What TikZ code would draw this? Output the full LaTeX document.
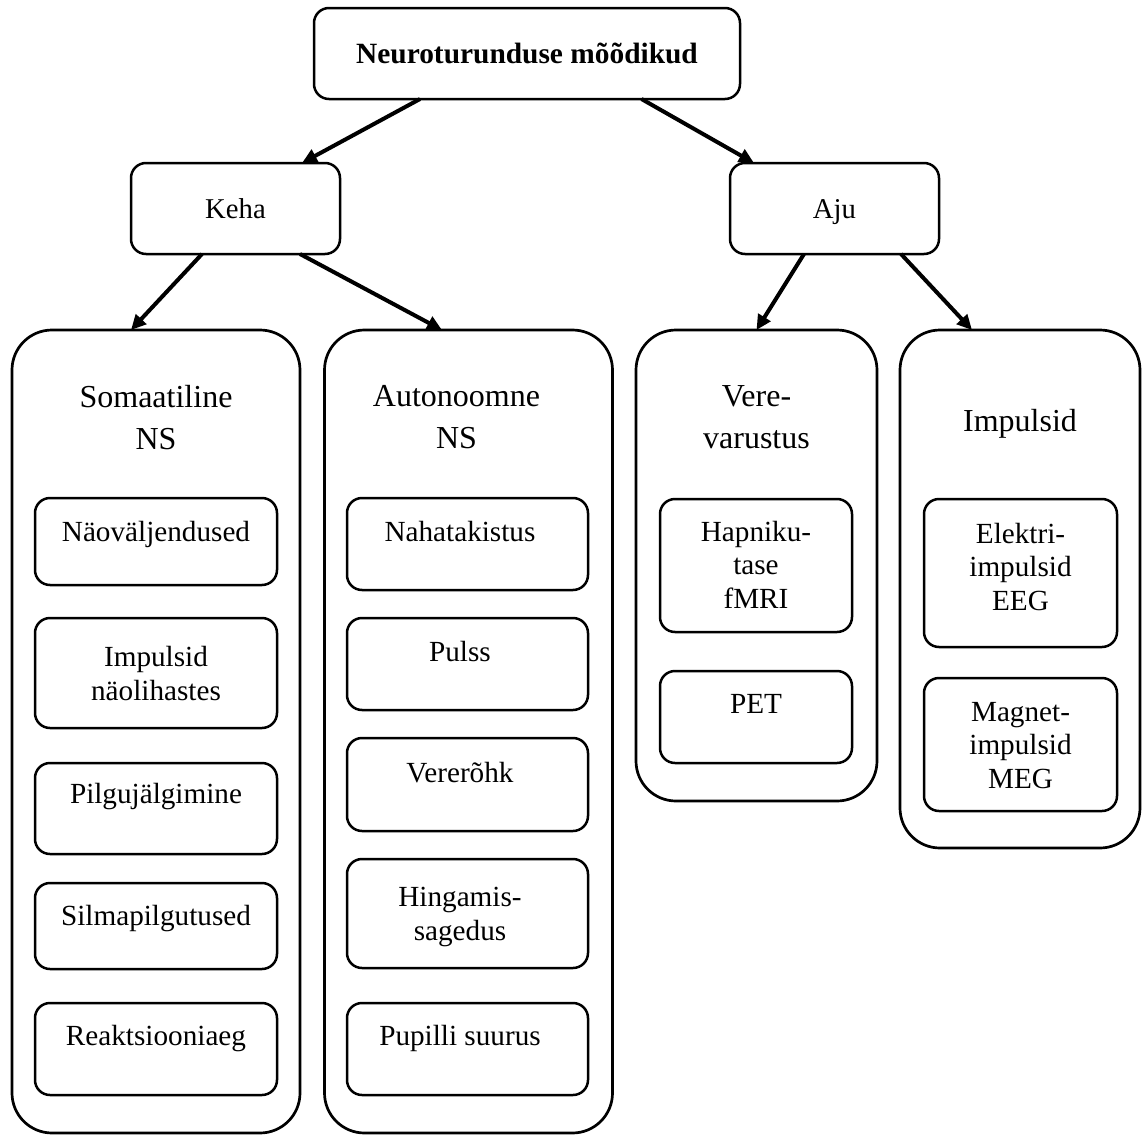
\documentclass[tikz,border=0pt]{standalone}
\usepackage{fontspec}
\setmainfont{Liberation Serif}
\usetikzlibrary{arrows.meta,calc}

\begin{document}
\begin{tikzpicture}[x=1pt,y=-1pt,
  every node/.style={inner sep=0pt,outer sep=0pt},
  groupbox/.style={draw,rectangle,line width=2.7pt,rounded corners=40pt},
  itembox/.style={draw,rectangle,line width=2.5pt,rounded corners=15pt},
  topbox/.style={draw,rectangle,line width=2.5pt,rounded corners=15pt,
    text height=20pt,text depth=0pt},
  % multi-line labels sit on the baseline of their last line
  lbl/.style={anchor=base,align=center,font=\fontsize{29.2}{33.3}\selectfont},
  head/.style={anchor=base,align=center,font=\fontsize{32}{41.5}\selectfont},
  arr/.style={line width=4pt,-{Triangle[length=15pt,width=14pt]}}]

\useasboundingbox (0,0) rectangle (1144,1135);

% top level
\node[topbox,minimum width=426pt,minimum height=91pt,
  font=\fontsize{29.4}{34}\selectfont\bfseries] (title) at (527,53.5)
  {Neuroturunduse mõõdikud};

% second level
\node[topbox,minimum width=209pt,minimum height=91pt,
  font=\fontsize{28.7}{33}\selectfont] (keha) at (235.5,208.5) {Keha};
\node[topbox,minimum width=209pt,minimum height=91pt,
  font=\fontsize{28.7}{33}\selectfont] (aju) at (834.5,208.5) {Aju};

% group containers
\node[groupbox,minimum width=288pt,minimum height=803pt] (som) at (156,731.5) {};
\node[groupbox,minimum width=288pt,minimum height=803pt] (aut) at (468.5,731.5) {};
\node[groupbox,minimum width=241pt,minimum height=471pt] (vere) at (756.5,565.5) {};
\node[groupbox,minimum width=240pt,minimum height=518pt] (imp) at (1020,589) {};

\node[head] (som-head) at (156,449) {Somaatiline\\NS};
\node[head] (aut-head) at (456.5,448) {Autonoomne\\NS};
\node[head] (vere-head) at (756.5,448) {Vere-\\varustus};
\node[head] (imp-head) at (1020,431.5) {Impulsid};

% somatic measures
\node[itembox,minimum width=242pt,minimum height=87pt]  (s1) at (156,541.5) {};
\node[itembox,minimum width=242pt,minimum height=110pt] (s2) at (156,673) {};
\node[itembox,minimum width=242pt,minimum height=91pt]  (s3) at (156,808.5) {};
\node[itembox,minimum width=242pt,minimum height=86pt]  (s4) at (156,926) {};
\node[itembox,minimum width=242pt,minimum height=92pt]  (s5) at (156,1049) {};
\node[lbl] (s1-text) at (156,541) {Näoväljendused};
\node[lbl] (s2-text) at (156,700) {Impulsid\\näolihastes};
\node[lbl] (s3-text) at (156,803) {Pilgujälgimine};
\node[lbl] (s4-text) at (156,925) {Silmapilgutused};
\node[lbl] (s5-text) at (156,1045) {Reaktsiooniaeg};

% autonomic measures
\node[itembox,minimum width=241pt,minimum height=92pt]  (a1) at (467.5,544) {};
\node[itembox,minimum width=241pt,minimum height=92pt]  (a2) at (467.5,664) {};
\node[itembox,minimum width=241pt,minimum height=93pt]  (a3) at (467.5,784.5) {};
\node[itembox,minimum width=241pt,minimum height=109pt] (a4) at (467.5,913.5) {};
\node[itembox,minimum width=241pt,minimum height=92pt]  (a5) at (467.5,1049) {};
\node[lbl] (a1-text) at (460,541) {Nahatakistus};
\node[lbl] (a2-text) at (460,661) {Pulss};
\node[lbl] (a3-text) at (460,782) {Vererõhk};
\node[lbl] (a4-text) at (460,940) {Hingamis-\\sagedus};
\node[lbl] (a5-text) at (460,1045) {Pupilli suurus};

% blood supply measures
\node[itembox,minimum width=192pt,minimum height=133pt] (v1) at (756,565.5) {};
\node[itembox,minimum width=192pt,minimum height=92pt]  (v2) at (756,717) {};
\node[lbl] (v1-text) at (756,608) {Hapniku-\\tase\\fMRI};
\node[lbl] (v2-text) at (756,713) {PET};

% impulse measures
\node[itembox,minimum width=193pt,minimum height=148pt] (i1) at (1020.5,573) {};
\node[itembox,minimum width=193pt,minimum height=133pt] (i2) at (1020.5,744.5) {};
\node[lbl] (i1-text) at (1020.5,610) {Elektri-\\impulsid\\EEG};
\node[lbl] (i2-text) at (1020.5,788) {Magnet-\\impulsid\\MEG};

% connectors
\draw[arr] ($(title.south west)+(106,0)$) -- ($(keha.north west)+(171,0)$);
\draw[arr] ($(title.south west)+(327.5,0)$) -- ($(aju.north west)+(24,0)$);
\draw[arr] ($(keha.south west)+(71,0)$) -- ($(som.north west)+(119,0)$);
\draw[arr] ($(keha.south west)+(169,0)$) -- ($(aut.north west)+(117.5,0)$);
\draw[arr] ($(aju.south west)+(74,0)$) -- ($(vere.north west)+(120.5,0)$);
\draw[arr] ($(aju.south west)+(171,0)$) -- ($(imp.north west)+(72,0)$);
\end{tikzpicture}
\end{document}
